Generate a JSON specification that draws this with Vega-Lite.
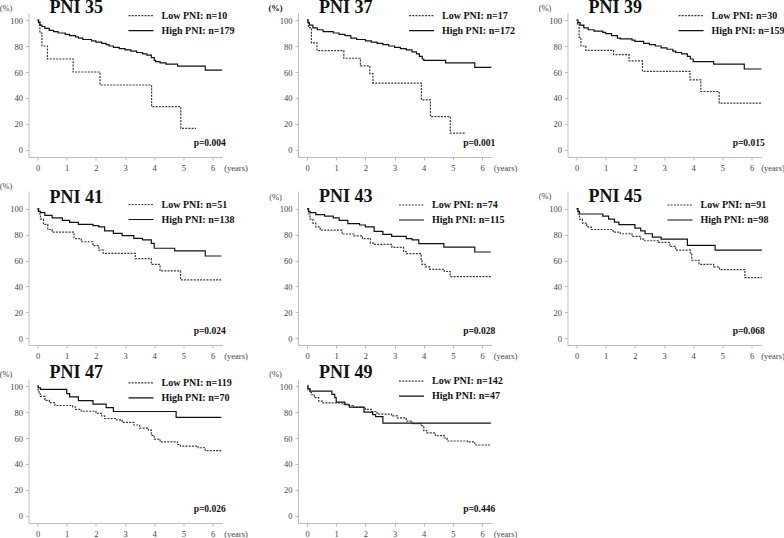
{
"$schema": "https://vega.github.io/schema/vega-lite/v6.json",
"padding": {"left": -1.5, "top": -1, "right": 0, "bottom": 0},
"background": "white",
"bounds": "flush",
"columns": 3,
"spacing": {"row": 34, "column": 75.5},
"resolve": {"scale": {"x": "independent", "y": "independent", "color": "independent", "strokeDash": "independent"}, "legend": {"color": "independent", "strokeDash": "independent"}},
"datasets": {
"km": [
{"panel":"PNI 35","group":"Low PNI: n=10","t":0,"s":100},{"panel":"PNI 35","group":"Low PNI: n=10","t":0.08,"s":90},{"panel":"PNI 35","group":"Low PNI: n=10","t":0.15,"s":80},{"panel":"PNI 35","group":"Low PNI: n=10","t":0.34,"s":70},{"panel":"PNI 35","group":"Low PNI: n=10","t":1.22,"s":60},{"panel":"PNI 35","group":"Low PNI: n=10","t":2.14,"s":50},{"panel":"PNI 35","group":"Low PNI: n=10","t":3.91,"s":33.3},{"panel":"PNI 35","group":"Low PNI: n=10","t":4.91,"s":16.7},{"panel":"PNI 35","group":"Low PNI: n=10","t":5.43,"s":16.7},
{"panel":"PNI 35","group":"High PNI: n=179","t":0,"s":100},{"panel":"PNI 35","group":"High PNI: n=179","t":0.03,"s":98},{"panel":"PNI 35","group":"High PNI: n=179","t":0.08,"s":96},{"panel":"PNI 35","group":"High PNI: n=179","t":0.15,"s":95},{"panel":"PNI 35","group":"High PNI: n=179","t":0.25,"s":93.5},{"panel":"PNI 35","group":"High PNI: n=179","t":0.4,"s":92},{"panel":"PNI 35","group":"High PNI: n=179","t":0.55,"s":91},{"panel":"PNI 35","group":"High PNI: n=179","t":0.7,"s":90},{"panel":"PNI 35","group":"High PNI: n=179","t":0.95,"s":89},{"panel":"PNI 35","group":"High PNI: n=179","t":1.1,"s":88},{"panel":"PNI 35","group":"High PNI: n=179","t":1.3,"s":87},{"panel":"PNI 35","group":"High PNI: n=179","t":1.4,"s":86},{"panel":"PNI 35","group":"High PNI: n=179","t":1.55,"s":85},{"panel":"PNI 35","group":"High PNI: n=179","t":1.85,"s":84},{"panel":"PNI 35","group":"High PNI: n=179","t":2.0,"s":83},{"panel":"PNI 35","group":"High PNI: n=179","t":2.2,"s":82},{"panel":"PNI 35","group":"High PNI: n=179","t":2.35,"s":81},{"panel":"PNI 35","group":"High PNI: n=179","t":2.45,"s":80},{"panel":"PNI 35","group":"High PNI: n=179","t":2.6,"s":79},{"panel":"PNI 35","group":"High PNI: n=179","t":2.8,"s":78},{"panel":"PNI 35","group":"High PNI: n=179","t":3.0,"s":77},{"panel":"PNI 35","group":"High PNI: n=179","t":3.2,"s":76},{"panel":"PNI 35","group":"High PNI: n=179","t":3.4,"s":75},{"panel":"PNI 35","group":"High PNI: n=179","t":3.6,"s":74},{"panel":"PNI 35","group":"High PNI: n=179","t":3.75,"s":73},{"panel":"PNI 35","group":"High PNI: n=179","t":3.9,"s":71},{"panel":"PNI 35","group":"High PNI: n=179","t":4.0,"s":69},{"panel":"PNI 35","group":"High PNI: n=179","t":4.05,"s":68},{"panel":"PNI 35","group":"High PNI: n=179","t":4.2,"s":67},{"panel":"PNI 35","group":"High PNI: n=179","t":4.4,"s":66},{"panel":"PNI 35","group":"High PNI: n=179","t":4.8,"s":64.5},{"panel":"PNI 35","group":"High PNI: n=179","t":5.75,"s":61.5},{"panel":"PNI 35","group":"High PNI: n=179","t":6.32,"s":61.5},

{"panel":"PNI 37","group":"Low PNI: n=17","t":0,"s":100},{"panel":"PNI 37","group":"Low PNI: n=17","t":0.05,"s":94.1},{"panel":"PNI 37","group":"Low PNI: n=17","t":0.15,"s":82.4},{"panel":"PNI 37","group":"Low PNI: n=17","t":0.34,"s":76.5},{"panel":"PNI 37","group":"Low PNI: n=17","t":1.26,"s":70.6},{"panel":"PNI 37","group":"Low PNI: n=17","t":1.83,"s":64.7},{"panel":"PNI 37","group":"Low PNI: n=17","t":2.15,"s":58.8},{"panel":"PNI 37","group":"Low PNI: n=17","t":2.26,"s":51.5},{"panel":"PNI 37","group":"Low PNI: n=17","t":3.92,"s":38.6},{"panel":"PNI 37","group":"Low PNI: n=17","t":4.23,"s":25.7},{"panel":"PNI 37","group":"Low PNI: n=17","t":4.91,"s":12.9},{"panel":"PNI 37","group":"Low PNI: n=17","t":5.43,"s":12.9},
{"panel":"PNI 37","group":"High PNI: n=172","t":0,"s":100},{"panel":"PNI 37","group":"High PNI: n=172","t":0.03,"s":98},{"panel":"PNI 37","group":"High PNI: n=172","t":0.08,"s":96},{"panel":"PNI 37","group":"High PNI: n=172","t":0.2,"s":94},{"panel":"PNI 37","group":"High PNI: n=172","t":0.35,"s":92.5},{"panel":"PNI 37","group":"High PNI: n=172","t":0.55,"s":91},{"panel":"PNI 37","group":"High PNI: n=172","t":0.9,"s":90},{"panel":"PNI 37","group":"High PNI: n=172","t":1.1,"s":89},{"panel":"PNI 37","group":"High PNI: n=172","t":1.3,"s":88},{"panel":"PNI 37","group":"High PNI: n=172","t":1.5,"s":86},{"panel":"PNI 37","group":"High PNI: n=172","t":1.7,"s":85},{"panel":"PNI 37","group":"High PNI: n=172","t":2.0,"s":84},{"panel":"PNI 37","group":"High PNI: n=172","t":2.2,"s":83},{"panel":"PNI 37","group":"High PNI: n=172","t":2.4,"s":82},{"panel":"PNI 37","group":"High PNI: n=172","t":2.6,"s":81},{"panel":"PNI 37","group":"High PNI: n=172","t":2.8,"s":80},{"panel":"PNI 37","group":"High PNI: n=172","t":3.0,"s":79},{"panel":"PNI 37","group":"High PNI: n=172","t":3.2,"s":78},{"panel":"PNI 37","group":"High PNI: n=172","t":3.4,"s":77},{"panel":"PNI 37","group":"High PNI: n=172","t":3.6,"s":75.5},{"panel":"PNI 37","group":"High PNI: n=172","t":3.75,"s":74},{"panel":"PNI 37","group":"High PNI: n=172","t":3.85,"s":72},{"panel":"PNI 37","group":"High PNI: n=172","t":3.95,"s":70},{"panel":"PNI 37","group":"High PNI: n=172","t":4.0,"s":69},{"panel":"PNI 37","group":"High PNI: n=172","t":4.75,"s":67},{"panel":"PNI 37","group":"High PNI: n=172","t":5.75,"s":63.5},{"panel":"PNI 37","group":"High PNI: n=172","t":6.32,"s":63.5},

{"panel":"PNI 39","group":"Low PNI: n=30","t":0,"s":100},{"panel":"PNI 39","group":"Low PNI: n=30","t":0.03,"s":96.7},{"panel":"PNI 39","group":"Low PNI: n=30","t":0.09,"s":86.7},{"panel":"PNI 39","group":"Low PNI: n=30","t":0.15,"s":80},{"panel":"PNI 39","group":"Low PNI: n=30","t":0.32,"s":76.7},{"panel":"PNI 39","group":"Low PNI: n=30","t":1.27,"s":73.3},{"panel":"PNI 39","group":"Low PNI: n=30","t":1.8,"s":68.5},{"panel":"PNI 39","group":"Low PNI: n=30","t":2.26,"s":60.5},{"panel":"PNI 39","group":"Low PNI: n=30","t":3.89,"s":54},{"panel":"PNI 39","group":"Low PNI: n=30","t":4.26,"s":45},{"panel":"PNI 39","group":"Low PNI: n=30","t":4.89,"s":36},{"panel":"PNI 39","group":"Low PNI: n=30","t":6.34,"s":36},
{"panel":"PNI 39","group":"High PNI: n=159","t":0,"s":100},{"panel":"PNI 39","group":"High PNI: n=159","t":0.05,"s":98},{"panel":"PNI 39","group":"High PNI: n=159","t":0.12,"s":96},{"panel":"PNI 39","group":"High PNI: n=159","t":0.25,"s":94},{"panel":"PNI 39","group":"High PNI: n=159","t":0.4,"s":92.5},{"panel":"PNI 39","group":"High PNI: n=159","t":0.6,"s":91.5},{"panel":"PNI 39","group":"High PNI: n=159","t":0.9,"s":90.5},{"panel":"PNI 39","group":"High PNI: n=159","t":1.0,"s":89.5},{"panel":"PNI 39","group":"High PNI: n=159","t":1.2,"s":88},{"panel":"PNI 39","group":"High PNI: n=159","t":1.4,"s":86},{"panel":"PNI 39","group":"High PNI: n=159","t":1.5,"s":85.5},{"panel":"PNI 39","group":"High PNI: n=159","t":1.9,"s":84.5},{"panel":"PNI 39","group":"High PNI: n=159","t":2.0,"s":83.5},{"panel":"PNI 39","group":"High PNI: n=159","t":2.3,"s":82},{"panel":"PNI 39","group":"High PNI: n=159","t":2.5,"s":81},{"panel":"PNI 39","group":"High PNI: n=159","t":2.7,"s":80},{"panel":"PNI 39","group":"High PNI: n=159","t":2.9,"s":78.5},{"panel":"PNI 39","group":"High PNI: n=159","t":3.1,"s":77.5},{"panel":"PNI 39","group":"High PNI: n=159","t":3.3,"s":76},{"panel":"PNI 39","group":"High PNI: n=159","t":3.4,"s":75},{"panel":"PNI 39","group":"High PNI: n=159","t":3.6,"s":74},{"panel":"PNI 39","group":"High PNI: n=159","t":3.8,"s":72},{"panel":"PNI 39","group":"High PNI: n=159","t":3.9,"s":70},{"panel":"PNI 39","group":"High PNI: n=159","t":4.0,"s":68},{"panel":"PNI 39","group":"High PNI: n=159","t":4.7,"s":66},{"panel":"PNI 39","group":"High PNI: n=159","t":5.75,"s":62.3},{"panel":"PNI 39","group":"High PNI: n=159","t":6.34,"s":62.3},

{"panel":"PNI 41","group":"Low PNI: n=51","t":0,"s":100},{"panel":"PNI 41","group":"Low PNI: n=51","t":0.05,"s":96},{"panel":"PNI 41","group":"Low PNI: n=51","t":0.1,"s":92},{"panel":"PNI 41","group":"Low PNI: n=51","t":0.2,"s":88},{"panel":"PNI 41","group":"Low PNI: n=51","t":0.35,"s":84},{"panel":"PNI 41","group":"Low PNI: n=51","t":0.5,"s":82},{"panel":"PNI 41","group":"Low PNI: n=51","t":1.25,"s":77},{"panel":"PNI 41","group":"Low PNI: n=51","t":1.5,"s":74.5},{"panel":"PNI 41","group":"Low PNI: n=51","t":1.9,"s":71.5},{"panel":"PNI 41","group":"Low PNI: n=51","t":2.1,"s":68},{"panel":"PNI 41","group":"Low PNI: n=51","t":2.25,"s":65.5},{"panel":"PNI 41","group":"Low PNI: n=51","t":3.35,"s":61.5},{"panel":"PNI 41","group":"Low PNI: n=51","t":3.9,"s":57},{"panel":"PNI 41","group":"Low PNI: n=51","t":4.2,"s":52},{"panel":"PNI 41","group":"Low PNI: n=51","t":4.9,"s":45},{"panel":"PNI 41","group":"Low PNI: n=51","t":6.3,"s":45},
{"panel":"PNI 41","group":"High PNI: n=138","t":0,"s":100},{"panel":"PNI 41","group":"High PNI: n=138","t":0.03,"s":98},{"panel":"PNI 41","group":"High PNI: n=138","t":0.1,"s":97},{"panel":"PNI 41","group":"High PNI: n=138","t":0.25,"s":95},{"panel":"PNI 41","group":"High PNI: n=138","t":0.5,"s":93},{"panel":"PNI 41","group":"High PNI: n=138","t":0.85,"s":91},{"panel":"PNI 41","group":"High PNI: n=138","t":1.1,"s":89.5},{"panel":"PNI 41","group":"High PNI: n=138","t":1.4,"s":88},{"panel":"PNI 41","group":"High PNI: n=138","t":1.9,"s":87},{"panel":"PNI 41","group":"High PNI: n=138","t":2.1,"s":86},{"panel":"PNI 41","group":"High PNI: n=138","t":2.3,"s":83},{"panel":"PNI 41","group":"High PNI: n=138","t":2.6,"s":81},{"panel":"PNI 41","group":"High PNI: n=138","t":2.9,"s":79.3},{"panel":"PNI 41","group":"High PNI: n=138","t":3.3,"s":77.2},{"panel":"PNI 41","group":"High PNI: n=138","t":3.6,"s":76},{"panel":"PNI 41","group":"High PNI: n=138","t":3.9,"s":73.3},{"panel":"PNI 41","group":"High PNI: n=138","t":4.0,"s":69.5},{"panel":"PNI 41","group":"High PNI: n=138","t":4.7,"s":67.5},{"panel":"PNI 41","group":"High PNI: n=138","t":5.75,"s":63.5},{"panel":"PNI 41","group":"High PNI: n=138","t":6.3,"s":63.5},

{"panel":"PNI 43","group":"Low PNI: n=74","t":0,"s":100},{"panel":"PNI 43","group":"Low PNI: n=74","t":0.05,"s":96},{"panel":"PNI 43","group":"Low PNI: n=74","t":0.1,"s":92},{"panel":"PNI 43","group":"Low PNI: n=74","t":0.2,"s":89},{"panel":"PNI 43","group":"Low PNI: n=74","t":0.3,"s":86},{"panel":"PNI 43","group":"Low PNI: n=74","t":0.45,"s":83.5},{"panel":"PNI 43","group":"Low PNI: n=74","t":1.2,"s":80.5},{"panel":"PNI 43","group":"Low PNI: n=74","t":1.6,"s":79},{"panel":"PNI 43","group":"Low PNI: n=74","t":1.9,"s":77},{"panel":"PNI 43","group":"Low PNI: n=74","t":2.17,"s":73.5},{"panel":"PNI 43","group":"Low PNI: n=74","t":2.29,"s":72.5},{"panel":"PNI 43","group":"Low PNI: n=74","t":2.91,"s":70.2},{"panel":"PNI 43","group":"Low PNI: n=74","t":3.31,"s":67},{"panel":"PNI 43","group":"Low PNI: n=74","t":3.4,"s":65.3},{"panel":"PNI 43","group":"Low PNI: n=74","t":3.91,"s":61},{"panel":"PNI 43","group":"Low PNI: n=74","t":3.94,"s":57},{"panel":"PNI 43","group":"Low PNI: n=74","t":4.05,"s":55},{"panel":"PNI 43","group":"Low PNI: n=74","t":4.2,"s":53.2},{"panel":"PNI 43","group":"Low PNI: n=74","t":4.7,"s":51.5},{"panel":"PNI 43","group":"Low PNI: n=74","t":4.91,"s":47.5},{"panel":"PNI 43","group":"Low PNI: n=74","t":6.3,"s":47.5},
{"panel":"PNI 43","group":"High PNI: n=115","t":0,"s":100},{"panel":"PNI 43","group":"High PNI: n=115","t":0.05,"s":98},{"panel":"PNI 43","group":"High PNI: n=115","t":0.1,"s":97},{"panel":"PNI 43","group":"High PNI: n=115","t":0.3,"s":95.5},{"panel":"PNI 43","group":"High PNI: n=115","t":0.6,"s":94.3},{"panel":"PNI 43","group":"High PNI: n=115","t":0.9,"s":93},{"panel":"PNI 43","group":"High PNI: n=115","t":1.1,"s":91},{"panel":"PNI 43","group":"High PNI: n=115","t":1.4,"s":88.5},{"panel":"PNI 43","group":"High PNI: n=115","t":1.8,"s":87.5},{"panel":"PNI 43","group":"High PNI: n=115","t":2.0,"s":86},{"panel":"PNI 43","group":"High PNI: n=115","t":2.3,"s":82.5},{"panel":"PNI 43","group":"High PNI: n=115","t":2.6,"s":80.2},{"panel":"PNI 43","group":"High PNI: n=115","t":2.9,"s":78.7},{"panel":"PNI 43","group":"High PNI: n=115","t":3.4,"s":77},{"panel":"PNI 43","group":"High PNI: n=115","t":3.6,"s":76},{"panel":"PNI 43","group":"High PNI: n=115","t":3.83,"s":73},{"panel":"PNI 43","group":"High PNI: n=115","t":4.69,"s":70.4},{"panel":"PNI 43","group":"High PNI: n=115","t":5.75,"s":66.6},{"panel":"PNI 43","group":"High PNI: n=115","t":6.3,"s":66.6},

{"panel":"PNI 45","group":"Low PNI: n=91","t":0,"s":100},{"panel":"PNI 45","group":"Low PNI: n=91","t":0.05,"s":96},{"panel":"PNI 45","group":"Low PNI: n=91","t":0.1,"s":92},{"panel":"PNI 45","group":"Low PNI: n=91","t":0.2,"s":89},{"panel":"PNI 45","group":"Low PNI: n=91","t":0.35,"s":86},{"panel":"PNI 45","group":"Low PNI: n=91","t":0.5,"s":84},{"panel":"PNI 45","group":"Low PNI: n=91","t":1.25,"s":82},{"panel":"PNI 45","group":"Low PNI: n=91","t":1.5,"s":80.7},{"panel":"PNI 45","group":"Low PNI: n=91","t":1.9,"s":78.7},{"panel":"PNI 45","group":"Low PNI: n=91","t":2.2,"s":76.5},{"panel":"PNI 45","group":"Low PNI: n=91","t":2.3,"s":75.3},{"panel":"PNI 45","group":"Low PNI: n=91","t":2.8,"s":74},{"panel":"PNI 45","group":"Low PNI: n=91","t":3.2,"s":71},{"panel":"PNI 45","group":"Low PNI: n=91","t":3.4,"s":68},{"panel":"PNI 45","group":"Low PNI: n=91","t":3.9,"s":65},{"panel":"PNI 45","group":"Low PNI: n=91","t":3.95,"s":60.2},{"panel":"PNI 45","group":"Low PNI: n=91","t":4.2,"s":57},{"panel":"PNI 45","group":"Low PNI: n=91","t":4.7,"s":55},{"panel":"PNI 45","group":"Low PNI: n=91","t":4.9,"s":53},{"panel":"PNI 45","group":"Low PNI: n=91","t":5.77,"s":46.8},{"panel":"PNI 45","group":"Low PNI: n=91","t":6.35,"s":46.8},
{"panel":"PNI 45","group":"High PNI: n=98","t":0,"s":100},{"panel":"PNI 45","group":"High PNI: n=98","t":0.05,"s":98},{"panel":"PNI 45","group":"High PNI: n=98","t":0.1,"s":96},{"panel":"PNI 45","group":"High PNI: n=98","t":0.9,"s":94.3},{"panel":"PNI 45","group":"High PNI: n=98","t":1.1,"s":92},{"panel":"PNI 45","group":"High PNI: n=98","t":1.3,"s":89.7},{"panel":"PNI 45","group":"High PNI: n=98","t":1.45,"s":87.7},{"panel":"PNI 45","group":"High PNI: n=98","t":2.0,"s":85},{"panel":"PNI 45","group":"High PNI: n=98","t":2.2,"s":83},{"panel":"PNI 45","group":"High PNI: n=98","t":2.35,"s":80.7},{"panel":"PNI 45","group":"High PNI: n=98","t":2.6,"s":78.1},{"panel":"PNI 45","group":"High PNI: n=98","t":2.9,"s":76.6},{"panel":"PNI 45","group":"High PNI: n=98","t":3.8,"s":71.7},{"panel":"PNI 45","group":"High PNI: n=98","t":4.75,"s":68.1},{"panel":"PNI 45","group":"High PNI: n=98","t":6.35,"s":68.1},

{"panel":"PNI 47","group":"Low PNI: n=119","t":0,"s":100},{"panel":"PNI 47","group":"Low PNI: n=119","t":0.02,"s":97},{"panel":"PNI 47","group":"Low PNI: n=119","t":0.05,"s":94},{"panel":"PNI 47","group":"Low PNI: n=119","t":0.1,"s":92},{"panel":"PNI 47","group":"Low PNI: n=119","t":0.25,"s":89},{"panel":"PNI 47","group":"Low PNI: n=119","t":0.4,"s":87.2},{"panel":"PNI 47","group":"Low PNI: n=119","t":0.6,"s":85},{"panel":"PNI 47","group":"Low PNI: n=119","t":1.2,"s":84},{"panel":"PNI 47","group":"Low PNI: n=119","t":1.3,"s":82},{"panel":"PNI 47","group":"Low PNI: n=119","t":1.5,"s":80.6},{"panel":"PNI 47","group":"Low PNI: n=119","t":2.0,"s":79},{"panel":"PNI 47","group":"Low PNI: n=119","t":2.2,"s":77},{"panel":"PNI 47","group":"Low PNI: n=119","t":2.3,"s":75},{"panel":"PNI 47","group":"Low PNI: n=119","t":2.7,"s":74},{"panel":"PNI 47","group":"Low PNI: n=119","t":2.9,"s":72},{"panel":"PNI 47","group":"Low PNI: n=119","t":3.3,"s":70},{"panel":"PNI 47","group":"Low PNI: n=119","t":3.5,"s":67.6},{"panel":"PNI 47","group":"Low PNI: n=119","t":3.8,"s":66},{"panel":"PNI 47","group":"Low PNI: n=119","t":3.9,"s":62},{"panel":"PNI 47","group":"Low PNI: n=119","t":4.0,"s":59.2},{"panel":"PNI 47","group":"Low PNI: n=119","t":4.2,"s":57},{"panel":"PNI 47","group":"Low PNI: n=119","t":4.8,"s":55},{"panel":"PNI 47","group":"Low PNI: n=119","t":4.9,"s":53.8},{"panel":"PNI 47","group":"Low PNI: n=119","t":5.5,"s":52.5},{"panel":"PNI 47","group":"Low PNI: n=119","t":5.75,"s":50.3},{"panel":"PNI 47","group":"Low PNI: n=119","t":6.3,"s":50.3},
{"panel":"PNI 47","group":"High PNI: n=70","t":0,"s":100},{"panel":"PNI 47","group":"High PNI: n=70","t":0.03,"s":98.6},{"panel":"PNI 47","group":"High PNI: n=70","t":0.1,"s":97.4},{"panel":"PNI 47","group":"High PNI: n=70","t":1.0,"s":94.1},{"panel":"PNI 47","group":"High PNI: n=70","t":1.1,"s":91.6},{"panel":"PNI 47","group":"High PNI: n=70","t":1.4,"s":88.8},{"panel":"PNI 47","group":"High PNI: n=70","t":1.9,"s":86},{"panel":"PNI 47","group":"High PNI: n=70","t":2.35,"s":83.4},{"panel":"PNI 47","group":"High PNI: n=70","t":2.6,"s":80.4},{"panel":"PNI 47","group":"High PNI: n=70","t":4.75,"s":75.8},{"panel":"PNI 47","group":"High PNI: n=70","t":6.3,"s":75.8},

{"panel":"PNI 49","group":"Low PNI: n=142","t":0,"s":100},{"panel":"PNI 49","group":"Low PNI: n=142","t":0.03,"s":97},{"panel":"PNI 49","group":"Low PNI: n=142","t":0.1,"s":95},{"panel":"PNI 49","group":"Low PNI: n=142","t":0.15,"s":93.3},{"panel":"PNI 49","group":"Low PNI: n=142","t":0.25,"s":91},{"panel":"PNI 49","group":"Low PNI: n=142","t":0.4,"s":88.4},{"panel":"PNI 49","group":"Low PNI: n=142","t":0.55,"s":87},{"panel":"PNI 49","group":"Low PNI: n=142","t":1.2,"s":86},{"panel":"PNI 49","group":"Low PNI: n=142","t":1.4,"s":85},{"panel":"PNI 49","group":"Low PNI: n=142","t":1.6,"s":83.5},{"panel":"PNI 49","group":"Low PNI: n=142","t":2.0,"s":82},{"panel":"PNI 49","group":"Low PNI: n=142","t":2.2,"s":80.4},{"panel":"PNI 49","group":"Low PNI: n=142","t":2.4,"s":78.4},{"panel":"PNI 49","group":"Low PNI: n=142","t":2.9,"s":77},{"panel":"PNI 49","group":"Low PNI: n=142","t":3.1,"s":75.5},{"panel":"PNI 49","group":"Low PNI: n=142","t":3.4,"s":73},{"panel":"PNI 49","group":"Low PNI: n=142","t":3.6,"s":71},{"panel":"PNI 49","group":"Low PNI: n=142","t":3.9,"s":69.6},{"panel":"PNI 49","group":"Low PNI: n=142","t":4.0,"s":65.7},{"panel":"PNI 49","group":"Low PNI: n=142","t":4.1,"s":63.9},{"panel":"PNI 49","group":"Low PNI: n=142","t":4.4,"s":61.9},{"panel":"PNI 49","group":"Low PNI: n=142","t":4.7,"s":60},{"panel":"PNI 49","group":"Low PNI: n=142","t":4.8,"s":57.7},{"panel":"PNI 49","group":"Low PNI: n=142","t":5.5,"s":57},{"panel":"PNI 49","group":"Low PNI: n=142","t":5.75,"s":54.6},{"panel":"PNI 49","group":"Low PNI: n=142","t":6.3,"s":54.6},
{"panel":"PNI 49","group":"High PNI: n=47","t":0,"s":100},{"panel":"PNI 49","group":"High PNI: n=47","t":0.03,"s":98},{"panel":"PNI 49","group":"High PNI: n=47","t":0.1,"s":96.1},{"panel":"PNI 49","group":"High PNI: n=47","t":0.85,"s":93.6},{"panel":"PNI 49","group":"High PNI: n=47","t":0.95,"s":91},{"panel":"PNI 49","group":"High PNI: n=47","t":1.0,"s":87.6},{"panel":"PNI 49","group":"High PNI: n=47","t":1.3,"s":85.6},{"panel":"PNI 49","group":"High PNI: n=47","t":1.45,"s":83.8},{"panel":"PNI 49","group":"High PNI: n=47","t":1.95,"s":79.9},{"panel":"PNI 49","group":"High PNI: n=47","t":2.25,"s":78},{"panel":"PNI 49","group":"High PNI: n=47","t":2.35,"s":76.5},{"panel":"PNI 49","group":"High PNI: n=47","t":2.6,"s":71.4},{"panel":"PNI 49","group":"High PNI: n=47","t":6.3,"s":71.4}
]
},
"concat": [
{"width": 194, "height": 144, "title": {"text": "PNI 35", "offset": -14},
 "layer": [
  {"data": {"name": "km"}, "transform": [{"filter": "datum.panel == 'PNI 35'"}], "mark": {"type": "line", "interpolate": "step-after"},
   "encoding": {
    "x": {"field": "t", "type": "quantitative", "scale": {"domain": [-0.31, 6.34], "nice": false, "zero": false}, "axis": {"values": [0,1,2,3,4,5,6], "format": "d", "tickCount": 20, "labelOverlap": false, "title": "(years)"}},
    "y": {"field": "s", "type": "quantitative", "scale": {"domain": [-5.4, 105.4], "nice": false, "zero": false}, "axis": {"values": [0,20,40,60,80,100], "format": "d", "tickCount": 20, "labelOverlap": false, "title": "(%)", "titleY": -6}},
    "color": {"field": "group", "type": "nominal", "sort": "descending", "scale": {"range": ["#3a3a3a", "#111111"]}, "legend": {"title": null, "legendX": 106.5, "legendY": -3.3}},
    "strokeDash": {"field": "group", "type": "nominal", "sort": "descending", "scale": {"range": [[2, 1.2], [1, 0]]}, "legend": {"title": null, "legendX": 106.5, "legendY": -3.3}}}},
  {"data": {"values": [{"p": "p=0.004"}]}, "mark": {"type": "text"}, "encoding": {"x": {"datum": 6.45}, "y": {"datum": 5.4}, "text": {"field": "p"}}}
 ]},
{"width": 194, "height": 144, "title": {"text": "PNI 37", "offset": -14},
 "layer": [
  {"data": {"name": "km"}, "transform": [{"filter": "datum.panel == 'PNI 37'"}], "mark": {"type": "line", "interpolate": "step-after"},
   "encoding": {
    "x": {"field": "t", "type": "quantitative", "scale": {"domain": [-0.31, 6.34], "nice": false, "zero": false}, "axis": {"values": [0,1,2,3,4,5,6], "format": "d", "tickCount": 20, "labelOverlap": false, "title": "(years)"}},
    "y": {"field": "s", "type": "quantitative", "scale": {"domain": [-5.4, 105.4], "nice": false, "zero": false}, "axis": {"values": [0,20,40,60,80,100], "format": "d", "tickCount": 20, "labelOverlap": false, "title": "(%)", "titleY": -6, "titleFontWeight": "bold", "titleColor": "#111"}},
    "color": {"field": "group", "type": "nominal", "sort": "descending", "scale": {"range": ["#3a3a3a", "#111111"]}, "legend": {"title": null, "legendX": 117.5, "legendY": -3.3}},
    "strokeDash": {"field": "group", "type": "nominal", "sort": "descending", "scale": {"range": [[2, 1.2], [1, 0]]}, "legend": {"title": null, "legendX": 117.5, "legendY": -3.3}}}},
  {"data": {"values": [{"p": "p=0.001"}]}, "mark": {"type": "text"}, "encoding": {"x": {"datum": 6.45}, "y": {"datum": 5.4}, "text": {"field": "p"}}}
 ]},
{"width": 194, "height": 144, "title": {"text": "PNI 39", "offset": -14},
 "layer": [
  {"data": {"name": "km"}, "transform": [{"filter": "datum.panel == 'PNI 39'"}], "mark": {"type": "line", "interpolate": "step-after"},
   "encoding": {
    "x": {"field": "t", "type": "quantitative", "scale": {"domain": [-0.31, 6.34], "nice": false, "zero": false}, "axis": {"values": [0,1,2,3,4,5,6], "format": "d", "tickCount": 20, "labelOverlap": false, "title": "(years)", "titleX": 205}},
    "y": {"field": "s", "type": "quantitative", "scale": {"domain": [-5.4, 105.4], "nice": false, "zero": false}, "axis": {"values": [0,20,40,60,80,100], "format": "d", "tickCount": 20, "labelOverlap": false, "title": "(%)", "titleY": -6}},
    "color": {"field": "group", "type": "nominal", "sort": "descending", "scale": {"range": ["#3a3a3a", "#111111"]}, "legend": {"title": null, "legendX": 117.5, "legendY": -3.3}},
    "strokeDash": {"field": "group", "type": "nominal", "sort": "descending", "scale": {"range": [[2, 1.2], [1, 0]]}, "legend": {"title": null, "legendX": 117.5, "legendY": -3.3}}}},
  {"data": {"values": [{"p": "p=0.015"}]}, "mark": {"type": "text"}, "encoding": {"x": {"datum": 6.45}, "y": {"datum": 5.4}, "text": {"field": "p"}}}
 ]},
{"width": 194, "height": 154, "title": {"text": "PNI 41", "offset": -26},
 "layer": [
  {"data": {"name": "km"}, "transform": [{"filter": "datum.panel == 'PNI 41'"}], "mark": {"type": "line", "interpolate": "step-after"},
   "encoding": {
    "x": {"field": "t", "type": "quantitative", "scale": {"domain": [-0.31, 6.34], "nice": false, "zero": false}, "axis": {"values": [0,1,2,3,4,5,6], "format": "d", "tickCount": 20, "labelOverlap": false, "title": "(years)"}},
    "y": {"field": "s", "type": "quantitative", "scale": {"domain": [-5.4, 113.8], "nice": false, "zero": false}, "axis": {"values": [0,20,40,60,80,100], "format": "d", "tickCount": 20, "labelOverlap": false, "title": "(%)", "titleY": -6}},
    "color": {"field": "group", "type": "nominal", "sort": "descending", "scale": {"range": ["#3a3a3a", "#111111"]}, "legend": {"title": null, "legendX": 106.5, "legendY": 7.5}},
    "strokeDash": {"field": "group", "type": "nominal", "sort": "descending", "scale": {"range": [[2, 1.2], [1, 0]]}, "legend": {"title": null, "legendX": 106.5, "legendY": 7.5}}}},
  {"data": {"values": [{"p": "p=0.024"}]}, "mark": {"type": "text"}, "encoding": {"x": {"datum": 6.45}, "y": {"datum": 5.6}, "text": {"field": "p"}}}
 ]},
{"width": 194, "height": 154, "title": {"text": "PNI 43", "offset": -15.3},
 "layer": [
  {"data": {"name": "km"}, "transform": [{"filter": "datum.panel == 'PNI 43'"}], "mark": {"type": "line", "interpolate": "step-after"},
   "encoding": {
    "x": {"field": "t", "type": "quantitative", "scale": {"domain": [-0.31, 6.34], "nice": false, "zero": false}, "axis": {"values": [0,1,2,3,4,5,6], "format": "d", "tickCount": 20, "labelOverlap": false, "title": "(years)"}},
    "y": {"field": "s", "type": "quantitative", "scale": {"domain": [-5.4, 113.8], "nice": false, "zero": false}, "axis": {"values": [0,20,40,60,80,100], "format": "d", "tickCount": 20, "labelOverlap": false, "title": "(%)", "titleY": 5}},
    "color": {"field": "group", "type": "nominal", "sort": "descending", "scale": {"range": ["#3a3a3a", "#111111"]}, "legend": {"title": null, "legendX": 107.5, "legendY": 8}},
    "strokeDash": {"field": "group", "type": "nominal", "sort": "descending", "scale": {"range": [[2, 1.2], [1, 0]]}, "legend": {"title": null, "legendX": 107.5, "legendY": 8}}}},
  {"data": {"values": [{"p": "p=0.028"}]}, "mark": {"type": "text"}, "encoding": {"x": {"datum": 6.45}, "y": {"datum": 5.6}, "text": {"field": "p"}}}
 ]},
{"width": 194, "height": 154, "title": {"text": "PNI 45", "offset": -15.3},
 "layer": [
  {"data": {"name": "km"}, "transform": [{"filter": "datum.panel == 'PNI 45'"}], "mark": {"type": "line", "interpolate": "step-after"},
   "encoding": {
    "x": {"field": "t", "type": "quantitative", "scale": {"domain": [-0.31, 6.34], "nice": false, "zero": false}, "axis": {"values": [0,1,2,3,4,5,6], "format": "d", "tickCount": 20, "labelOverlap": false, "title": "(years)", "titleX": 205}},
    "y": {"field": "s", "type": "quantitative", "scale": {"domain": [-5.4, 113.8], "nice": false, "zero": false}, "axis": {"values": [0,20,40,60,80,100], "format": "d", "tickCount": 20, "labelOverlap": false, "title": "(%)", "titleY": 4}},
    "color": {"field": "group", "type": "nominal", "sort": "descending", "scale": {"range": ["#3a3a3a", "#111111"]}, "legend": {"title": null, "legendX": 106.5, "legendY": 8}},
    "strokeDash": {"field": "group", "type": "nominal", "sort": "descending", "scale": {"range": [[2, 1.2], [1, 0]]}, "legend": {"title": null, "legendX": 106.5, "legendY": 8}}}},
  {"data": {"values": [{"p": "p=0.068"}]}, "mark": {"type": "text"}, "encoding": {"x": {"datum": 6.45}, "y": {"datum": 5.6}, "text": {"field": "p"}}}
 ]},
{"width": 194, "height": 144, "title": {"text": "PNI 47", "offset": -13},
 "layer": [
  {"data": {"name": "km"}, "transform": [{"filter": "datum.panel == 'PNI 47'"}], "mark": {"type": "line", "interpolate": "step-after"},
   "encoding": {
    "x": {"field": "t", "type": "quantitative", "scale": {"domain": [-0.31, 6.34], "nice": false, "zero": false}, "axis": {"values": [0,1,2,3,4,5,6], "format": "d", "tickCount": 20, "labelOverlap": false, "title": "(years)"}},
    "y": {"field": "s", "type": "quantitative", "scale": {"domain": [-5.4, 105.4], "nice": false, "zero": false}, "axis": {"values": [0,20,40,60,80,100], "format": "d", "tickCount": 20, "labelOverlap": false, "title": "(%)", "titleY": -6}},
    "color": {"field": "group", "type": "nominal", "sort": "descending", "scale": {"range": ["#3a3a3a", "#111111"]}, "legend": {"title": null, "legendX": 106.5, "legendY": -2.2}},
    "strokeDash": {"field": "group", "type": "nominal", "sort": "descending", "scale": {"range": [[2, 1.2], [1, 0]]}, "legend": {"title": null, "legendX": 106.5, "legendY": -2.2}}}},
  {"data": {"values": [{"p": "p=0.026"}]}, "mark": {"type": "text"}, "encoding": {"x": {"datum": 6.45}, "y": {"datum": 5.4}, "text": {"field": "p"}}}
 ]},
{"width": 194, "height": 144, "title": {"text": "PNI 49", "offset": -13},
 "layer": [
  {"data": {"name": "km"}, "transform": [{"filter": "datum.panel == 'PNI 49'"}], "mark": {"type": "line", "interpolate": "step-after"},
   "encoding": {
    "x": {"field": "t", "type": "quantitative", "scale": {"domain": [-0.31, 6.34], "nice": false, "zero": false}, "axis": {"values": [0,1,2,3,4,5,6], "format": "d", "tickCount": 20, "labelOverlap": false, "title": "(years)"}},
    "y": {"field": "s", "type": "quantitative", "scale": {"domain": [-5.4, 105.4], "nice": false, "zero": false}, "axis": {"values": [0,20,40,60,80,100], "format": "d", "tickCount": 20, "labelOverlap": false, "title": "(%)", "titleY": -6}},
    "color": {"field": "group", "type": "nominal", "sort": "descending", "scale": {"range": ["#3a3a3a", "#111111"]}, "legend": {"title": null, "legendX": 107.5, "legendY": -3.8}},
    "strokeDash": {"field": "group", "type": "nominal", "sort": "descending", "scale": {"range": [[2, 1.2], [1, 0]]}, "legend": {"title": null, "legendX": 107.5, "legendY": -3.8}}}},
  {"data": {"values": [{"p": "p=0.446"}]}, "mark": {"type": "text"}, "encoding": {"x": {"datum": 6.45}, "y": {"datum": 5.4}, "text": {"field": "p"}}}
 ]}
],
"config": {
 "view": {"stroke": null},
 "font": "Liberation Serif",
 "axis": {"grid": false, "labelOverlap": false, "domainColor": "#bbbbbb", "tickColor": "#bbbbbb", "tickSize": 3, "labelFont": "Liberation Serif", "labelFontSize": 8.5, "labelColor": "#444444", "labelPadding": 3, "titleFont": "Liberation Serif", "titleFontWeight": "normal", "titleFontSize": 8.5, "titleColor": "#444444", "titlePadding": 0},
 "axisX": {"titleX": 207, "titleY": 10, "titleAlign": "center", "titleBaseline": "middle", "labelFlush": false},
 "axisY": {"titleAngle": 0, "titleX": -23, "titleAlign": "center", "titleBaseline": "middle"},
 "legend": {"orient": "none", "symbolType": "M-2.5,0H2.5", "symbolSize": 100, "symbolStrokeWidth": 1.3, "labelFont": "Liberation Serif", "labelFontWeight": "bold", "labelFontSize": 10, "labelColor": "#111111", "labelOffset": 14.5, "rowPadding": 4, "padding": 0, "labelLimit": 0},
 "title": {"anchor": "start", "frame": "group", "dx": 21, "font": "Liberation Serif", "fontSize": 18, "fontWeight": "bold", "color": "#111111", "baseline": "alphabetic"},
 "text": {"align": "right", "baseline": "middle", "font": "Liberation Serif", "fontWeight": "bold", "fontSize": 9.5, "color": "#111111"},
 "line": {"strokeWidth": 1.2}
}
}
